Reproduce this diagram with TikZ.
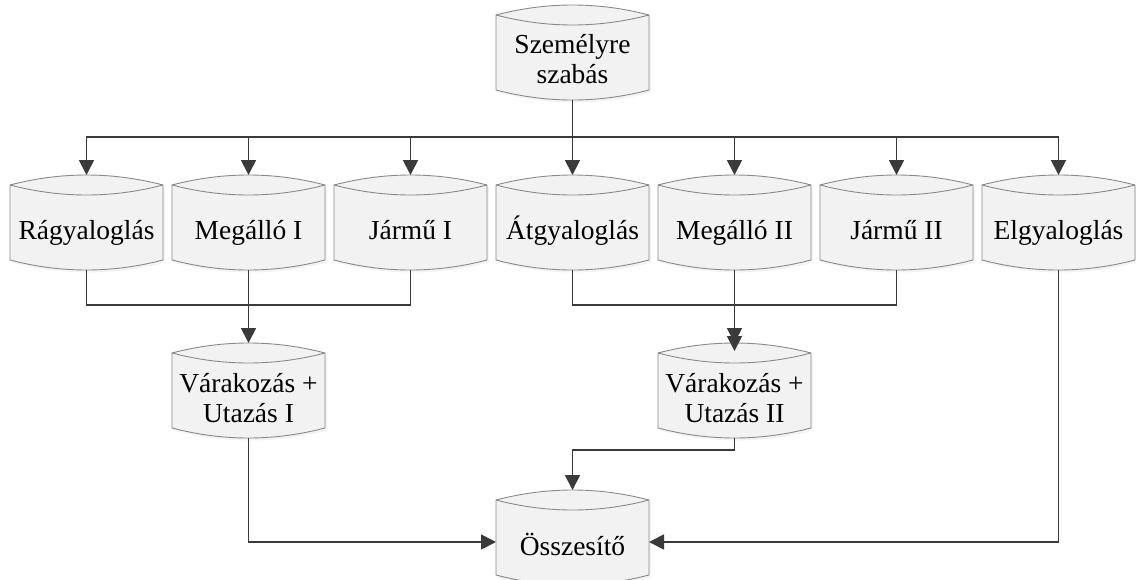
\documentclass[tikz,border=0pt]{standalone}
\usepackage{fontspec}
\setmainfont{Liberation Serif}
\usetikzlibrary{arrows.meta,calc}

\definecolor{wirecol}{HTML}{3A3A3A}
\definecolor{rimcol}{HTML}{8A8A8A}

\tikzset{
  frame/.style={rectangle, draw=none, minimum width=153pt, minimum height=95pt,
                inner sep=0pt, outer sep=0pt},
  txt/.style={anchor=base, inner sep=0pt, font=\fontsize{27.5}{30}\selectfont},
  wire/.style={draw=wirecol, line width=1.8pt},
  arrowline/.style={wire, -{Triangle[length=15pt,width=15pt]}},
  boxbody/.style={left color=black!5, middle color=white, right color=black!5,
                  draw=rimcol, line width=0.9pt},
  boxshade/.style={fill=black!10, opacity=0.45},
  rimline/.style={draw=rimcol, line width=0.9pt},
}

% outline of a "stored data" drum: centre x, y of the top arc's peak
\newcommand\drumoutline[3]{%
  \path[#3] ({#1-76.5},{#2+10})
    .. controls ({#1-25.5},{#2-3.33}) and ({#1+25.5},{#2-3.33}) .. ({#1+76.5},{#2+10})
    -- ({#1+76.5},{#2+85})
    .. controls ({#1+25.5},{#2+98.33}) and ({#1-25.5},{#2+98.33}) .. ({#1-76.5},{#2+85})
    -- cycle;}

% #1 name, #2 centre x, #3 peak y, #4 baseline offset of the last line, #5 text
\newcommand\drum[5]{%
  \begin{scope}[shift={(2,2.5)}]\drumoutline{#2}{#3}{boxshade}\end{scope}
  \drumoutline{#2}{#3}{boxbody}
  \draw[rimline] ({#2-76.5},{#3+10})
    .. controls ({#2-25.5},{#3+23.33}) and ({#2+25.5},{#3+23.33}) .. ({#2+76.5},{#3+10});
  \node[frame] (#1) at (#2,{#3+47.5}) {};
  \node[txt] (#1-t) at (#2,{#3+#4}) {#5};
}

\newcommand\twolines[2]{\begin{tabular}[b]{@{}c@{}}#1\\#2\end{tabular}}

\begin{document}
\begin{tikzpicture}[x=1pt,y=-1pt]
  \useasboundingbox (0,0) rectangle (1136,579);

  % drums
  \drum{szem}{572.5}{5}{78}{\twolines{Személyre}{szabás}}
  \drum{rag}{86.5}{175}{64}{Rágyaloglás}
  \drum{meg1}{248.5}{175}{64}{Megálló I}
  \drum{jar1}{410.5}{175}{64}{Jármű I}
  \drum{atg}{572.5}{175}{64}{Átgyaloglás}
  \drum{meg2}{734.5}{175}{64}{Megálló II}
  \drum{jar2}{896.5}{175}{64}{Jármű II}
  \drum{elg}{1058.5}{175}{64}{Elgyaloglás}
  \drum{var1}{248.5}{343}{79}{\twolines{Várakozás +}{Utazás I}}
  \drum{var2}{734.5}{343}{79}{\twolines{Várakozás +}{Utazás II}}
  \drum{sum}{572.5}{490}{65}{Összesítő}

  % distribution bus
  \coordinate (bus) at (572.5,137);
  \draw[wire] (szem.south) -- (bus);
  \foreach \n in {rag,meg1,jar1,atg,meg2,jar2,elg}
    \draw[arrowline] (bus) -| (\n.north);

  % first leg
  \coordinate (m1) at (248.5,305);
  \draw[wire] (rag.south) |- (m1);
  \draw[wire] (jar1.south) |- (m1);
  \draw[arrowline] (meg1.south) -- (var1.north);

  % second leg
  \coordinate (m2) at (734.5,305);
  \draw[wire] (atg.south) |- (m2);
  \draw[wire] (jar2.south) |- (m2);
  \draw[arrowline] (meg2.south) -- (var2.north);
  \draw[arrowline] (m2) -- ([yshift=-8pt]var2.north);

  % collection
  \draw[arrowline] (var1.south) |- ([yshift=-4.5pt]sum.west);
  \draw[arrowline] (elg.south) |- ([yshift=-4.5pt]sum.east);
  \coordinate (v2turn) at (734.5,450);
  \draw[arrowline] (var2.south) -- (v2turn) -| (sum.north);
\end{tikzpicture}
\end{document}
